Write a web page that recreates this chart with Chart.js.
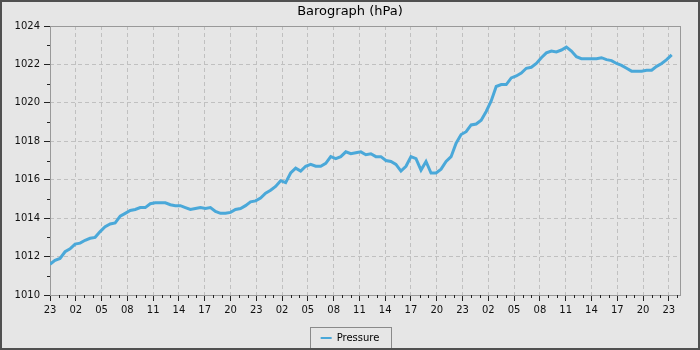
<!DOCTYPE html>
<html>
<head>
<meta charset="utf-8">
<script src="https://cdn.jsdelivr.net/npm/chart.js@4/dist/chart.umd.min.js"></script>
<style>
  html, body { margin: 0; padding: 0; background: #e6e6e6; }
  #wrap {
    width: 700px; height: 350px; box-sizing: border-box;
    border: 2px solid #505050; background: #e6e6e6;
  }
  #chart { display: block; }
</style>
</head>
<body>
<div id="wrap"><canvas id="chart" width="696" height="346"></canvas></div>
<script>
// Readings every 35 minutes starting at 23:00 on day one
const START_HOUR = 23;
const STEP_MIN = 35;
const pressure = [
  1011.6, 1011.8, 1011.9, 1012.25, 1012.4, 1012.65, 1012.7, 1012.85, 1012.95, 1013.0,
  1013.3, 1013.55, 1013.7, 1013.75, 1014.1, 1014.25, 1014.4, 1014.45, 1014.55, 1014.55,
  1014.75, 1014.8, 1014.8, 1014.8, 1014.7, 1014.65, 1014.65, 1014.55, 1014.45, 1014.5,
  1014.55, 1014.5, 1014.55, 1014.35, 1014.25, 1014.25, 1014.3, 1014.45, 1014.5, 1014.65,
  1014.85, 1014.9, 1015.05, 1015.3, 1015.45, 1015.65, 1015.95, 1015.85, 1016.35, 1016.6,
  1016.45, 1016.7, 1016.8, 1016.7, 1016.7, 1016.85, 1017.2, 1017.1, 1017.2, 1017.45,
  1017.35, 1017.4, 1017.45, 1017.3, 1017.35, 1017.2, 1017.2, 1017.0, 1016.95, 1016.8,
  1016.45, 1016.7, 1017.2, 1017.1, 1016.5, 1016.95, 1016.35, 1016.35, 1016.55, 1016.95,
  1017.2, 1017.9, 1018.35, 1018.5, 1018.85, 1018.9, 1019.1, 1019.55, 1020.1, 1020.85,
  1020.95, 1020.95, 1021.3, 1021.4, 1021.55, 1021.8, 1021.85, 1022.05, 1022.35, 1022.6,
  1022.7, 1022.65, 1022.75, 1022.9, 1022.7, 1022.4, 1022.3, 1022.3, 1022.3, 1022.3,
  1022.35, 1022.25, 1022.2, 1022.05, 1021.95, 1021.8, 1021.65, 1021.65, 1021.65, 1021.7,
  1021.7, 1021.9, 1022.05, 1022.25, 1022.5
];
const X_MAX = 73.3;   // hours shown on the axis
const Y_MIN = 1010, Y_MAX = 1024;

const points = pressure.map((p, i) => ({ x: i * STEP_MIN / 60, y: p }));

// plot frame (drawn under the line)
const framePlugin = {
  id: 'frame',
  beforeDatasetsDraw(chart) {
    const { ctx, chartArea: a } = chart;
    ctx.save();
    ctx.strokeStyle = '#999';
    ctx.lineWidth = 1;
    ctx.strokeRect(a.left + 0.5, a.top + 0.5, a.right - a.left, a.bottom - a.top);
    ctx.restore();
  }
};

// hourly / odd-hPa minor ticks
const minorTicks = {
  id: 'minorTicks',
  afterDraw(chart) {
    const { ctx, chartArea: a, scales: { x, y } } = chart;
    ctx.save();
    ctx.strokeStyle = '#222';
    ctx.lineWidth = 1;
    ctx.beginPath();
    for (let h = 1; h <= Math.floor(X_MAX); h++) {
      if (h % 3 === 0) continue;
      const px = Math.round(x.getPixelForValue(h)) + 0.5;
      ctx.moveTo(px, a.bottom);
      ctx.lineTo(px, a.bottom + 3);
    }
    for (let v = Y_MIN + 1; v < Y_MAX; v += 2) {
      const py = Math.round(y.getPixelForValue(v)) + 0.5;
      ctx.moveTo(a.left - 3, py);
      ctx.lineTo(a.left, py);
    }
    ctx.stroke();
    ctx.restore();
  }
};

// box around the legend
const legendBox = {
  id: 'legendBox',
  afterDraw(chart) {
    const hb = chart.legend && chart.legend.legendHitBoxes[0];
    if (!hb) return;
    const { ctx } = chart;
    ctx.save();
    ctx.strokeStyle = '#8a8a8a';
    ctx.lineWidth = 1;
    ctx.strokeRect(Math.round(hb.left - 11) + 0.5, Math.round(hb.top - 6) + 0.5,
      Math.round(hb.width + 22), Math.round(hb.height + 11));
    ctx.restore();
  }
};

const tickFont = { family: 'DejaVu Sans', size: 10 };

new Chart(document.getElementById('chart'), {
  type: 'line',
  data: {
    datasets: [{
      label: 'Pressure',
      data: points,
      borderColor: '#4aa8d9',
      backgroundColor: '#4aa8d9',
      borderWidth: 3,
      pointRadius: 0,
      tension: 0,
      fill: false
    }]
  },
  options: {
    responsive: false,
    animation: false,
    layout: { padding: { top: 0, left: 0, right: 0, bottom: -5 } },
    plugins: {
      title: {
        display: true,
        text: 'Barograph (hPa)',
        color: '#000',
        font: { family: 'DejaVu Sans', size: 13, weight: 'normal' },
        padding: { top: 2, bottom: 6.4 }
      },
      legend: {
        position: 'bottom',
        labels: {
          color: '#000',
          font: tickFont,
          usePointStyle: true,
          pointStyle: 'line',
          pointStyleWidth: 11,
          boxHeight: 10,
          padding: 10,
          generateLabels: (chart) =>
            Chart.defaults.plugins.legend.labels.generateLabels(chart)
              .map(l => ({ ...l, lineWidth: 2 }))
        }
      },
      tooltip: { enabled: false }
    },
    scales: {
      x: {
        type: 'linear',
        min: 0,
        max: X_MAX,
        afterFit: s => { s.height = 28; },
        grid: {
          color: '#c0c0c0',
          borderDash: [4, 3],
          tickColor: '#222',
          tickLength: 6,
          tickBorderDash: []
        },
        border: { display: false, dash: [4, 3] },
        ticks: {
          stepSize: 3,
          includeBounds: false,
          autoSkip: false,
          maxRotation: 0,
          padding: 3,
          color: '#111',
          font: tickFont,
          callback: v => String(Math.round(START_HOUR + v) % 24).padStart(2, '0')
        }
      },
      y: {
        min: Y_MIN,
        max: Y_MAX,
        afterFit: s => { s.width = 48; },
        grid: {
          color: '#c0c0c0',
          borderDash: [4, 3],
          tickColor: '#222',
          tickLength: 6,
          tickBorderDash: []
        },
        border: { display: false, dash: [4, 3] },
        ticks: {
          stepSize: 2,
          padding: 4,
          color: '#111',
          font: tickFont,
          callback: v => String(v)
        }
      },
      yRight: {
        position: 'right',
        display: true,
        afterFit: s => { s.width = 18; },
        grid: { display: false },
        border: { display: false },
        ticks: { display: false }
      }
    }
  },
  plugins: [framePlugin, minorTicks, legendBox]
});
</script>
</body>
</html>
